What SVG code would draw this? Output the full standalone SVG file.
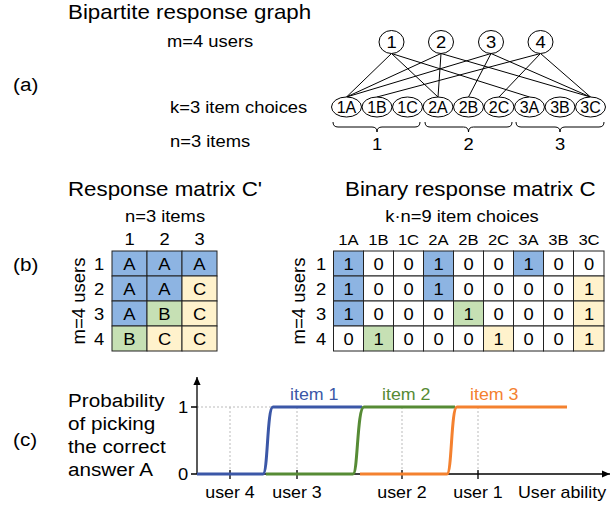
<svg xmlns="http://www.w3.org/2000/svg" width="616" height="505" viewBox="0 0 616 505">
<defs>
<style>
.t{font-family:"Liberation Sans",Arial,Helvetica,sans-serif;fill:#000}
.m{text-anchor:middle}
.f19{font-size:20.3px}
.f18{font-size:18.8px}
.f16{font-size:16.7px}
.f15{font-size:16.2px}
.f14{font-size:15.1px}
.ln{stroke:#000;stroke-width:1;fill:none}
.nd{fill:#fff;stroke:#000;stroke-width:1}
.c{stroke:#222;stroke-width:1}
.bl{fill:#8db4e2}
.gr{fill:#c6e0b4}
.ye{fill:#fff2cc}
.wh{fill:#fff}
.grid{stroke:#bbb;stroke-width:1;stroke-dasharray:2,2;fill:none}
.ax{stroke:#000;stroke-width:1.3;fill:none}
.cv{fill:none;stroke-width:3;stroke-linejoin:round}
</style>
<marker id="ah" viewBox="0 0 10 10" refX="10" refY="5" markerWidth="9" markerHeight="8" markerUnits="userSpaceOnUse" orient="auto">
<path d="M0,0.5 L10,5 L0,9.5 z" fill="#000"/>
</marker>
</defs>
<rect width="616" height="505" fill="#fff"/>

<!-- Part (a) -->
<g id="part-a-labels">
<text class="t f19" transform="matrix(1.1 0 0 1 68 19)">Bipartite response graph</text>
<text class="t f16" transform="matrix(1.1 0 0 1 167 47)">m=4 users</text>
<text class="t f18" transform="matrix(1.1 0 0 1 13 91)">(a)</text>
<text class="t f16" transform="matrix(1.1 0 0 1 170 113)">k=3 item choices</text>
<text class="t f16" transform="matrix(1.1 0 0 1 170 147)">n=3 items</text>
</g>

<g id="connectors" class="ln">
<line x1="391.5" y1="53.5" x2="346.5" y2="97"/>
<line x1="391.5" y1="53.5" x2="438" y2="97"/>
<line x1="391.5" y1="53.5" x2="529.5" y2="97"/>
<line x1="441" y1="53.5" x2="346.5" y2="97"/>
<line x1="441" y1="53.5" x2="438" y2="97"/>
<line x1="441" y1="53.5" x2="590.5" y2="97"/>
<line x1="491" y1="53.5" x2="346.5" y2="97"/>
<line x1="491" y1="53.5" x2="468.5" y2="97"/>
<line x1="491" y1="53.5" x2="590.5" y2="97"/>
<line x1="540.5" y1="53.5" x2="377" y2="97"/>
<line x1="540.5" y1="53.5" x2="499" y2="97"/>
<line x1="540.5" y1="53.5" x2="590.5" y2="97"/>
</g>

<g id="user-1"><ellipse class="nd" cx="391.5" cy="42" rx="12.5" ry="11.5"/><text class="t f16 m" transform="matrix(1.1 0 0 1 391.5 48)">1</text></g>
<g id="user-2"><ellipse class="nd" cx="441" cy="42" rx="12.5" ry="11.5"/><text class="t f16 m" transform="matrix(1.1 0 0 1 441 48)">2</text></g>
<g id="user-3"><ellipse class="nd" cx="491" cy="42" rx="12.5" ry="11.5"/><text class="t f16 m" transform="matrix(1.1 0 0 1 491 48)">3</text></g>
<g id="user-4"><ellipse class="nd" cx="540.5" cy="42" rx="12.5" ry="11.5"/><text class="t f16 m" transform="matrix(1.1 0 0 1 540.5 48)">4</text></g>

<g id="item-1A"><ellipse class="nd" cx="346.5" cy="107" rx="15" ry="10"/><text class="t m" font-size="16" x="346.5" y="112.8">1A</text></g>
<g id="item-1B"><ellipse class="nd" cx="377" cy="107" rx="15" ry="10"/><text class="t m" font-size="16" x="377" y="112.8">1B</text></g>
<g id="item-1C"><ellipse class="nd" cx="407.5" cy="107" rx="15" ry="10"/><text class="t m" font-size="16" x="407.5" y="112.8">1C</text></g>
<g id="item-2A"><ellipse class="nd" cx="438" cy="107" rx="15" ry="10"/><text class="t m" font-size="16" x="438" y="112.8">2A</text></g>
<g id="item-2B"><ellipse class="nd" cx="468.5" cy="107" rx="15" ry="10"/><text class="t m" font-size="16" x="468.5" y="112.8">2B</text></g>
<g id="item-2C"><ellipse class="nd" cx="499" cy="107" rx="15" ry="10"/><text class="t m" font-size="16" x="499" y="112.8">2C</text></g>
<g id="item-3A"><ellipse class="nd" cx="529.5" cy="107" rx="15" ry="10"/><text class="t m" font-size="16" x="529.5" y="112.8">3A</text></g>
<g id="item-3B"><ellipse class="nd" cx="560" cy="107" rx="15" ry="10"/><text class="t m" font-size="16" x="560" y="112.8">3B</text></g>
<g id="item-3C"><ellipse class="nd" cx="590.5" cy="107" rx="15" ry="10"/><text class="t m" font-size="16" x="590.5" y="112.8">3C</text></g>

<g id="braces">
<path class="ln" stroke="#333" d="M333,122 Q333,127 338,127 H372 Q377,127 377,132 Q377,127 382,127 H415 Q420,127 420,122"/>
<path class="ln" stroke="#333" d="M425,122 Q425,127 430,127 H463.5 Q468.5,127 468.5,132 Q468.5,127 473.5,127 H507 Q512,127 512,122"/>
<path class="ln" stroke="#333" d="M516,122 Q516,127 521,127 H555 Q560,127 560,132 Q560,127 565,127 H599 Q604,127 604,122"/>
<text class="t f16 m" transform="matrix(1.1 0 0 1 377 150)">1</text>
<text class="t f16 m" transform="matrix(1.1 0 0 1 468.5 150)">2</text>
<text class="t f16 m" transform="matrix(1.1 0 0 1 560 150)">3</text>
</g>

<!-- Part (b) -->
<g id="part-b-label">
<text class="t f18" transform="matrix(1.1 0 0 1 13 271)">(b)</text>
</g>

<g id="matrix-Cprime">
<text class="t f19" transform="matrix(1.1 0 0 1 68 196)">Response matrix C'</text>
<text class="t f16 m" transform="matrix(1.1 0 0 1 165 222)">n=3 items</text>
<text class="t f16 m" transform="matrix(1.1 0 0 1 129.5 245)">1</text>
<text class="t f16 m" transform="matrix(1.1 0 0 1 164.5 245)">2</text>
<text class="t f16 m" transform="matrix(1.1 0 0 1 199.5 245)">3</text>
<text class="t m" font-size="18.5" transform="translate(85,301) rotate(-90)">m=4 users</text>
<text class="t f16 m" transform="matrix(1.1 0 0 1 99 269.5)">1</text>
<text class="t f16 m" transform="matrix(1.1 0 0 1 99 294.5)">2</text>
<text class="t f16 m" transform="matrix(1.1 0 0 1 99 319.5)">3</text>
<text class="t f16 m" transform="matrix(1.1 0 0 1 99 344.5)">4</text>
<rect class="c bl" x="112" y="251" width="35" height="25"/>
<rect class="c bl" x="147" y="251" width="35" height="25"/>
<rect class="c bl" x="182" y="251" width="35" height="25"/>
<rect class="c bl" x="112" y="276" width="35" height="25"/>
<rect class="c bl" x="147" y="276" width="35" height="25"/>
<rect class="c ye" x="182" y="276" width="35" height="25"/>
<rect class="c bl" x="112" y="301" width="35" height="25"/>
<rect class="c gr" x="147" y="301" width="35" height="25"/>
<rect class="c ye" x="182" y="301" width="35" height="25"/>
<rect class="c gr" x="112" y="326" width="35" height="25"/>
<rect class="c ye" x="147" y="326" width="35" height="25"/>
<rect class="c ye" x="182" y="326" width="35" height="25"/>
<text class="t f16 m" transform="matrix(1.1 0 0 1 129.5 269.5)">A</text>
<text class="t f16 m" transform="matrix(1.1 0 0 1 164.5 269.5)">A</text>
<text class="t f16 m" transform="matrix(1.1 0 0 1 199.5 269.5)">A</text>
<text class="t f16 m" transform="matrix(1.1 0 0 1 129.5 294.5)">A</text>
<text class="t f16 m" transform="matrix(1.1 0 0 1 164.5 294.5)">A</text>
<text class="t f16 m" transform="matrix(1.1 0 0 1 199.5 294.5)">C</text>
<text class="t f16 m" transform="matrix(1.1 0 0 1 129.5 319.5)">A</text>
<text class="t f16 m" transform="matrix(1.1 0 0 1 164.5 319.5)">B</text>
<text class="t f16 m" transform="matrix(1.1 0 0 1 199.5 319.5)">C</text>
<text class="t f16 m" transform="matrix(1.1 0 0 1 129.5 344.5)">B</text>
<text class="t f16 m" transform="matrix(1.1 0 0 1 164.5 344.5)">C</text>
<text class="t f16 m" transform="matrix(1.1 0 0 1 199.5 344.5)">C</text>
</g>

<g id="matrix-C">
<text class="t f19" transform="matrix(1.1 0 0 1 345 196)">Binary response matrix C</text>
<text class="t f16 m" transform="matrix(1.1 0 0 1 462 222)">k·n=9 item choices</text>
<text class="t f14 m" transform="matrix(1.1 0 0 1 348.5 245)">1A</text>
<text class="t f14 m" transform="matrix(1.1 0 0 1 378.5 245)">1B</text>
<text class="t f14 m" transform="matrix(1.1 0 0 1 408.5 245)">1C</text>
<text class="t f14 m" transform="matrix(1.1 0 0 1 438.5 245)">2A</text>
<text class="t f14 m" transform="matrix(1.1 0 0 1 468.5 245)">2B</text>
<text class="t f14 m" transform="matrix(1.1 0 0 1 498.5 245)">2C</text>
<text class="t f14 m" transform="matrix(1.1 0 0 1 528.5 245)">3A</text>
<text class="t f14 m" transform="matrix(1.1 0 0 1 558.5 245)">3B</text>
<text class="t f14 m" transform="matrix(1.1 0 0 1 589 245)">3C</text>
<text class="t m" font-size="18.5" transform="translate(305,301) rotate(-90)">m=4 users</text>
<text class="t f16 m" transform="matrix(1.1 0 0 1 321 269.5)">1</text>
<text class="t f16 m" transform="matrix(1.1 0 0 1 321 294.5)">2</text>
<text class="t f16 m" transform="matrix(1.1 0 0 1 321 319.5)">3</text>
<text class="t f16 m" transform="matrix(1.1 0 0 1 321 344.5)">4</text>
<!-- row 1 -->
<rect class="c bl" x="333.5" y="251" width="30" height="25"/>
<rect class="c wh" x="363.5" y="251" width="30" height="25"/>
<rect class="c wh" x="393.5" y="251" width="30" height="25"/>
<rect class="c bl" x="423.5" y="251" width="30" height="25"/>
<rect class="c wh" x="453.5" y="251" width="30" height="25"/>
<rect class="c wh" x="483.5" y="251" width="30" height="25"/>
<rect class="c bl" x="513.5" y="251" width="30" height="25"/>
<rect class="c wh" x="543.5" y="251" width="30" height="25"/>
<rect class="c wh" x="573.5" y="251" width="30.5" height="25"/>
<!-- row 2 -->
<rect class="c bl" x="333.5" y="276" width="30" height="25"/>
<rect class="c wh" x="363.5" y="276" width="30" height="25"/>
<rect class="c wh" x="393.5" y="276" width="30" height="25"/>
<rect class="c bl" x="423.5" y="276" width="30" height="25"/>
<rect class="c wh" x="453.5" y="276" width="30" height="25"/>
<rect class="c wh" x="483.5" y="276" width="30" height="25"/>
<rect class="c wh" x="513.5" y="276" width="30" height="25"/>
<rect class="c wh" x="543.5" y="276" width="30" height="25"/>
<rect class="c ye" x="573.5" y="276" width="30.5" height="25"/>
<!-- row 3 -->
<rect class="c bl" x="333.5" y="301" width="30" height="25"/>
<rect class="c wh" x="363.5" y="301" width="30" height="25"/>
<rect class="c wh" x="393.5" y="301" width="30" height="25"/>
<rect class="c wh" x="423.5" y="301" width="30" height="25"/>
<rect class="c gr" x="453.5" y="301" width="30" height="25"/>
<rect class="c wh" x="483.5" y="301" width="30" height="25"/>
<rect class="c wh" x="513.5" y="301" width="30" height="25"/>
<rect class="c wh" x="543.5" y="301" width="30" height="25"/>
<rect class="c ye" x="573.5" y="301" width="30.5" height="25"/>
<!-- row 4 -->
<rect class="c wh" x="333.5" y="326" width="30" height="25"/>
<rect class="c gr" x="363.5" y="326" width="30" height="25"/>
<rect class="c wh" x="393.5" y="326" width="30" height="25"/>
<rect class="c wh" x="423.5" y="326" width="30" height="25"/>
<rect class="c wh" x="453.5" y="326" width="30" height="25"/>
<rect class="c ye" x="483.5" y="326" width="30" height="25"/>
<rect class="c wh" x="513.5" y="326" width="30" height="25"/>
<rect class="c wh" x="543.5" y="326" width="30" height="25"/>
<rect class="c ye" x="573.5" y="326" width="30.5" height="25"/>
<g class="t f16 m">
<text transform="matrix(1.1 0 0 1 348.5 269.5)">1</text><text transform="matrix(1.1 0 0 1 378.5 269.5)">0</text><text transform="matrix(1.1 0 0 1 408.5 269.5)">0</text><text transform="matrix(1.1 0 0 1 438.5 269.5)">1</text><text transform="matrix(1.1 0 0 1 468.5 269.5)">0</text><text transform="matrix(1.1 0 0 1 498.5 269.5)">0</text><text transform="matrix(1.1 0 0 1 528.5 269.5)">1</text><text transform="matrix(1.1 0 0 1 558.5 269.5)">0</text><text transform="matrix(1.1 0 0 1 589 269.5)">0</text>
<text transform="matrix(1.1 0 0 1 348.5 294.5)">1</text><text transform="matrix(1.1 0 0 1 378.5 294.5)">0</text><text transform="matrix(1.1 0 0 1 408.5 294.5)">0</text><text transform="matrix(1.1 0 0 1 438.5 294.5)">1</text><text transform="matrix(1.1 0 0 1 468.5 294.5)">0</text><text transform="matrix(1.1 0 0 1 498.5 294.5)">0</text><text transform="matrix(1.1 0 0 1 528.5 294.5)">0</text><text transform="matrix(1.1 0 0 1 558.5 294.5)">0</text><text transform="matrix(1.1 0 0 1 589 294.5)">1</text>
<text transform="matrix(1.1 0 0 1 348.5 319.5)">1</text><text transform="matrix(1.1 0 0 1 378.5 319.5)">0</text><text transform="matrix(1.1 0 0 1 408.5 319.5)">0</text><text transform="matrix(1.1 0 0 1 438.5 319.5)">0</text><text transform="matrix(1.1 0 0 1 468.5 319.5)">1</text><text transform="matrix(1.1 0 0 1 498.5 319.5)">0</text><text transform="matrix(1.1 0 0 1 528.5 319.5)">0</text><text transform="matrix(1.1 0 0 1 558.5 319.5)">0</text><text transform="matrix(1.1 0 0 1 589 319.5)">1</text>
<text transform="matrix(1.1 0 0 1 348.5 344.5)">0</text><text transform="matrix(1.1 0 0 1 378.5 344.5)">1</text><text transform="matrix(1.1 0 0 1 408.5 344.5)">0</text><text transform="matrix(1.1 0 0 1 438.5 344.5)">0</text><text transform="matrix(1.1 0 0 1 468.5 344.5)">0</text><text transform="matrix(1.1 0 0 1 498.5 344.5)">1</text><text transform="matrix(1.1 0 0 1 528.5 344.5)">0</text><text transform="matrix(1.1 0 0 1 558.5 344.5)">0</text><text transform="matrix(1.1 0 0 1 589 344.5)">1</text>
</g>
</g>

<!-- Part (c) -->
<g id="part-c-labels">
<text class="t f18" transform="matrix(1.1 0 0 1 13 446)">(c)</text>
<text class="t f18" transform="matrix(1.1 0 0 1 68 407)">Probability</text>
<text class="t f18" transform="matrix(1.1 0 0 1 68 430)">of picking</text>
<text class="t f18" transform="matrix(1.1 0 0 1 68 453)">the correct</text>
<text class="t f18" transform="matrix(1.1 0 0 1 68 476)">answer A</text>
</g>

<g id="plot">
<path class="grid" d="M197,407 H567 M230,407 V474 M297,407 V474 M402,407 V474 M478,407 V474"/>
<line class="ax" x1="197" y1="474" x2="197" y2="377" marker-end="url(#ah)"/>
<line class="ax" x1="197" y1="474" x2="610" y2="474" marker-end="url(#ah)"/>
<path class="ax" d="M191,407 H197 M191,474 H197 M230,470 V479 M297,470 V479 M402,470 V479 M478,470 V479"/>
<text class="t f16 m" transform="matrix(1.1 0 0 1 183 413)">1</text>
<text class="t f16 m" transform="matrix(1.1 0 0 1 183 480)">0</text>
<text class="t f15 m" transform="matrix(1.1 0 0 1 230 498)">user 4</text>
<text class="t f15 m" transform="matrix(1.1 0 0 1 297 498)">user 3</text>
<text class="t f15 m" transform="matrix(1.1 0 0 1 402 498)">user 2</text>
<text class="t f15 m" transform="matrix(1.1 0 0 1 478 498)">user 1</text>
<text class="t f15 m" transform="matrix(1.1 0 0 1 562 498)">User ability</text>
<path class="cv" stroke="#3b57a7" d="M197,474 H263 C268,474 267,407 273,407 H362"/>
<path class="cv" stroke="#568b35" d="M266,474 H353 C358,474 357,407 364,407 H455"/>
<path class="cv" stroke="#f4812f" d="M360,474 H447 C452,474 451,407 457,407 H567"/>
<text class="f15" font-family="Liberation Sans, Arial, sans-serif" fill="#3b57a7" transform="matrix(1.1 0 0 1 290 400)">item 1</text>
<text class="f15" font-family="Liberation Sans, Arial, sans-serif" fill="#568b35" transform="matrix(1.1 0 0 1 382 400)">item 2</text>
<text class="f15" font-family="Liberation Sans, Arial, sans-serif" fill="#f4812f" transform="matrix(1.1 0 0 1 470 400)">item 3</text>
</g>
</svg>
